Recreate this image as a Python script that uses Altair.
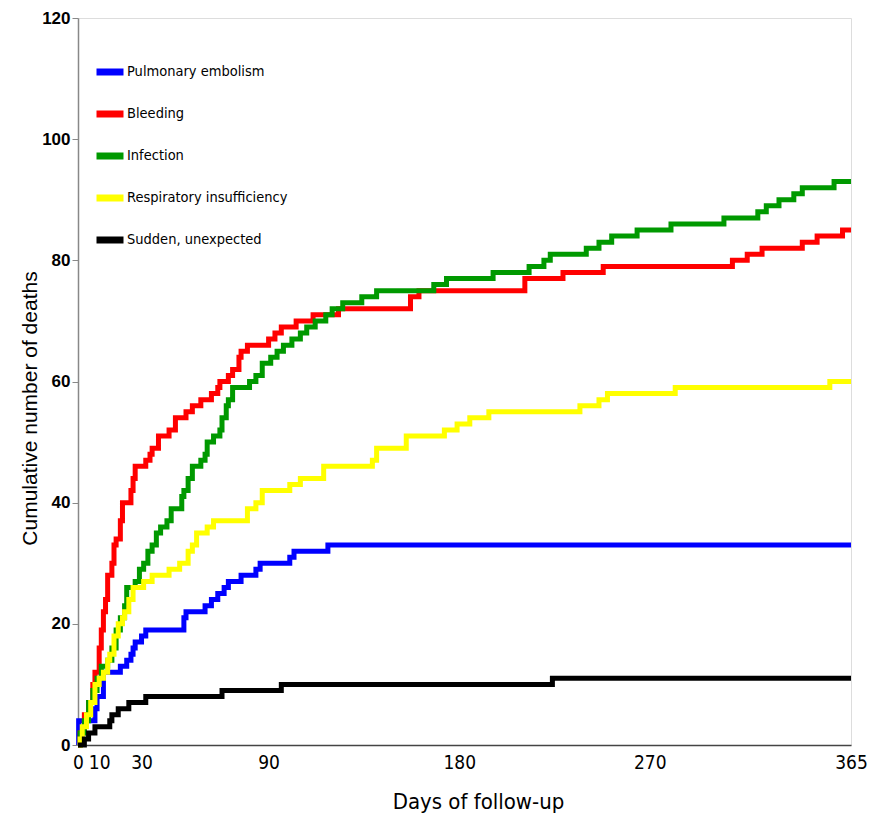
import altair as alt
import pandas as pd

series_names = ["Pulmonary embolism", "Bleeding", "Infection",
                "Respiratory insufficiency", "Sudden, unexpected"]
series_colors = ["#0000FF", "#FF0000", "#009900", "#FFFF00", "#000000"]

pe_days = [0, 0.3, 8, 9, 12, 20, 23, 25, 26, 27, 30, 32, 50, 51, 60, 63, 66, 69, 71, 77, 84, 86, 100, 102, 118, 365]
pe_vals = [0, 4, 6, 8, 12, 13, 14, 15, 16, 17, 18, 19, 21, 22, 23, 24, 25, 26, 27, 28, 29, 30, 31, 32, 33, 33]

bl_days = [0, 1, 3, 5, 7, 8, 10, 11, 12, 13, 14, 16, 17, 18, 20, 21, 25, 26, 27, 32, 34, 35, 38, 43, 46, 51, 54, 58, 63, 66, 67, 71, 73, 76, 77, 80, 90, 93, 96, 103, 111, 123, 157, 161, 211, 229, 248, 309, 316, 323, 342, 349, 361, 365]
bl_vals = [0, 2, 5, 7, 10, 12, 16, 19, 22, 24, 28, 30, 33, 34, 37, 40, 42, 44, 46, 47, 48, 49, 51, 52, 54, 55, 56, 57, 58, 59, 60, 61, 62, 64, 65, 66, 67, 68, 69, 70, 71, 72, 74, 75, 77, 78, 79, 80, 81, 82, 83, 84, 85, 85]

in_days = [0, 1, 3, 5, 7, 9, 11, 14, 16, 18, 20, 22, 23, 27, 29, 31, 33, 35, 37, 39, 42, 44, 49, 50, 52, 54, 58, 60, 61, 64, 67, 68, 70, 71, 73, 81, 84, 87, 91, 94, 97, 101, 105, 108, 112, 117, 120, 125, 134, 141, 168, 174, 196, 213, 220, 223, 240, 246, 252, 264, 280, 305, 321, 325, 331, 338, 342, 357, 365]
in_vals = [0, 2, 4, 7, 9, 11, 13, 14, 16, 19, 21, 23, 26, 27, 29, 30, 32, 33, 35, 36, 37, 39, 41, 42, 44, 46, 47, 48, 50, 51, 52, 54, 56, 57, 59, 60, 61, 63, 64, 65, 66, 67, 68, 69, 70, 71, 72, 73, 74, 75, 76, 77, 78, 79, 80, 81, 82, 83, 84, 85, 86, 87, 88, 89, 90, 91, 92, 93, 93]

ri_days = [0, 1, 2, 4, 6, 8, 10, 12, 14, 15, 17, 19, 21, 22, 24, 26, 31, 35, 43, 48, 52, 54, 56, 61, 64, 80, 84, 87, 100, 105, 116, 139, 141, 155, 173, 179, 185, 194, 237, 246, 250, 282, 355, 365]
ri_vals = [0, 1, 3, 5, 7, 10, 11, 12, 14, 15, 18, 20, 21, 22, 24, 26, 27, 28, 29, 30, 32, 33, 35, 36, 37, 39, 40, 42, 43, 44, 46, 47, 49, 51, 52, 53, 54, 55, 56, 57, 58, 59, 60, 60]

su_days = [0, 3, 5, 8, 15, 16, 19, 24, 32, 68, 96, 224, 365]
su_vals = [0, 1, 2, 3, 4, 5, 6, 7, 8, 9, 10, 11, 11]

x_ticks = [0, 10, 30, 90, 180, 270, 365]
y_ticks = [0, 20, 40, 60, 80, 100, 120]

rows = []
for name, days, vals in zip(series_names,
                            [pe_days, bl_days, in_days, ri_days, su_days],
                            [pe_vals, bl_vals, in_vals, ri_vals, su_vals]):
    for d, v in zip(days, vals):
        rows.append({"series": name, "day": d, "deaths": v})
df = pd.DataFrame(rows)

narrow = "DejaVu Sans Condensed, Liberation Sans Narrow, Liberation Sans, Arial"

chart = alt.Chart(df).mark_line(
    interpolate="step-after", strokeWidth=5, strokeJoin="miter", strokeCap="butt"
).encode(
    x=alt.X("day:Q", scale=alt.Scale(domain=[0, 365], nice=False, zero=True),
            axis=alt.Axis(values=x_ticks, title="Days of follow-up", ticks=False,
                          grid=False, labelFontSize=19, labelFont=narrow,
                          labelColor="#000", labelPadding=8, domainColor="#444",
                          domainWidth=1.5, titleFont=narrow, titleFontSize=22,
                          titleFontWeight="normal", titleColor="#000",
                          titleX=400, titleY=56, titleBaseline="middle",
                          labelFlush=False)),
    y=alt.Y("deaths:Q", scale=alt.Scale(domain=[0, 120], nice=False),
            axis=alt.Axis(values=y_ticks, title="Cumulative number of deaths",
                          grid=False, tickSize=6, tickColor="#888",
                          domainColor="#888", domainWidth=1.5,
                          labelFontSize=17, labelFontWeight="bold",
                          labelFont="Liberation Sans, Arial", labelColor="#000",
                          labelPadding=2, titleFont="Liberation Sans, Arial",
                          titleFontSize=21, titleFontWeight="normal",
                          titleColor="#000", titleX=-48, titleY=390,
                          titleBaseline="middle", titleAngle=270)),
    color=alt.Color("series:N",
                    scale=alt.Scale(domain=series_names, range=series_colors),
                    legend=alt.Legend(title=None, orient="none", legendX=15,
                                      legendY=37, symbolType="stroke",
                                      symbolSize=729, symbolStrokeWidth=7,
                                      labelFont=narrow, labelFontSize=14.5,
                                      labelColor="#000", labelOffset=0,
                                      rowPadding=11, padding=0,
                                      labelLimit=400)),
    order=alt.Order("day:Q"),
).properties(
    width=773, height=727,
    autosize=alt.AutoSizeParams(type="none"),
    padding={"left": 78, "top": 18, "right": 20, "bottom": 75},
).configure_view(
    stroke="#000", strokeWidth=1.5
).configure(background="white")

chart.save("out.html", embed_options={"renderer": "svg", "actions": False})
